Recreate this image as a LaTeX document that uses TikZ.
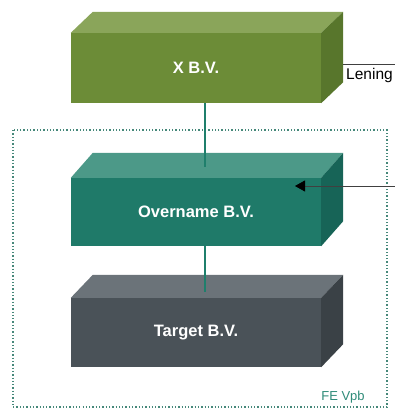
\documentclass[tikz,border=0pt]{standalone}
\usepackage{fontspec}
\setmainfont{Liberation Sans}
\usetikzlibrary{arrows.meta,calc}
\definecolor{olF}{HTML}{6C8C37}
\definecolor{olT}{HTML}{8AA55A}
\definecolor{olS}{HTML}{58762C}
\definecolor{tlF}{HTML}{1F7A69}
\definecolor{tlT}{HTML}{4C9988}
\definecolor{tlS}{HTML}{176457}
\definecolor{slF}{HTML}{4A5258}
\definecolor{slT}{HTML}{6B7379}
\definecolor{slS}{HTML}{3A4146}
\definecolor{conn}{HTML}{1F7F6C}
\definecolor{fegreen}{HTML}{2E8B78}
\tikzset{
  front/.style={rectangle, minimum width=250pt, inner sep=0pt, text=white,
    font=\fontsize{16.5}{19}\selectfont\bfseries},
  vline/.style={draw=conn, line width=1.1pt},
  frame/.style={draw=fegreen!70!gray, line width=1.3pt, dotted},
  plain/.style={draw=black!75, line width=0.8pt},
}
\newcommand{\cubefaces}[5]{% node, dx, dy, topcolor, sidecolor
  \fill[#4] (#1.north west) -- ++(#2,-#3) -- ($(#1.north east)+(#2,-#3)$) -- (#1.north east) -- cycle;
  \fill[#5] (#1.north east) -- ++(#2,-#3) -- ($(#1.south east)+(#2,-#3)$) -- (#1.south east) -- cycle;
}
\begin{document}
\begin{tikzpicture}[x=1pt,y=-1pt]
\useasboundingbox (0,0) rectangle (395,409);
% FE frame
\draw[frame] (13,130) rectangle (387,407);
\node[font=\fontsize{13}{15}\selectfont, text=fegreen, anchor=center] (fe) at (343,397) {FE Vpb};
% boxes
\node[front, fill=olF, minimum height=70pt] (xbv) at (196,68) {X B.V.};
\cubefaces{xbv}{22}{21}{olT}{olS}
\node[front, fill=tlF, minimum height=68pt] (ov) at (196,212) {Overname B.V.};
\cubefaces{ov}{22}{25}{tlT}{tlS}
\node[front, fill=slF, minimum height=69pt] (tg) at (196,332.5) {Target B.V.};
\cubefaces{tg}{22}{23}{slT}{slS}
% connectors
\coordinate (c12) at (205,167);
\coordinate (c23) at (205,292);
\draw[vline] (xbv.south -| c12) -- (c12);
\draw[vline] (ov.south -| c23) -- (c23);
% Lening
\coordinate (lenA) at (343,64);
\coordinate (lenB) at (396,64);
\draw[plain] (lenA) -- (lenB);
\node[anchor=west, font=\fontsize{15.5}{18}\selectfont, inner sep=0pt] (len) at (346,75) {Lening};
% arrow
\coordinate (arrS) at (396,186);
\coordinate (arrT) at (295,186);
\draw[plain, -{Triangle[length=10pt,width=11pt,color=black]}] (arrS) -- (arrT);
\end{tikzpicture}
\end{document}
